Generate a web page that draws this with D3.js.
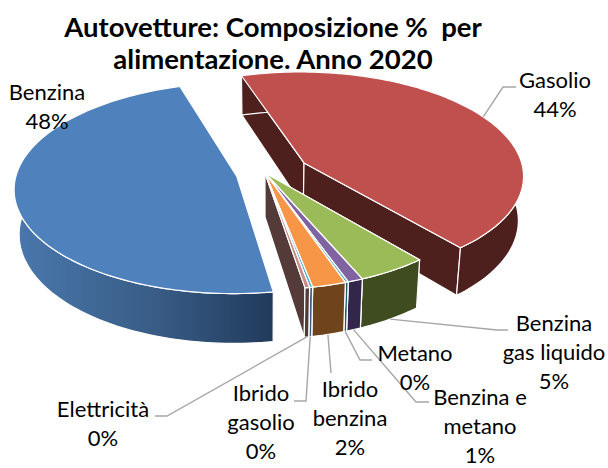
<!DOCTYPE html>
<html>
<head>
<meta charset="utf-8">
<script src="https://cdn.jsdelivr.net/npm/d3@7"></script>
<style>
  html, body { margin: 0; padding: 0; background: #fff; }
  svg { display: block; }
  text { font-family: Lato, "Open Sans", sans-serif; fill: #000; white-space: pre; }
</style>
</head>
<body>
<svg width="608" height="468"></svg>
<script>
"use strict";

var categories = ["Benzina", "Gasolio", "Benzina gas liquido", "Benzina e metano", "Metano", "Ibrido benzina", "Ibrido gasolio", "Elettricità"];
var shares = [47.7, 43.7, 4.6, 1.0, 0.2, 2.2, 0.2, 0.3];
var titleLines = ["Autovetture: Composizione %  per", "alimentazione. Anno 2020"];

var topColors = ["#4f81bd", "#c0504d", "#9bbb59", "#8064a2", "#4bacc6", "#f79646", "#4bacc6", "#c98a88"];
var wallColors = ["url(#benzina-wall)", "#4d1f1d", "#3f4c20", "#32274a", "#1d5a6b", "#6f431c", "#3c5f80", "#553a3a"];
var explode = [29, 45, 0, 0, 0, 0, 0, 0];

// label lines and where the leader goes after leaving the slice
var labelLayout = [
  { x: 47, y: 100, lines: ["Benzina"], leader: [] },
  { x: 555, y: 88, lines: ["Gasolio"], leader: [[503, 87], [516, 87]] },
  { x: 554, y: 331, lines: ["Benzina", "gas liquido"], leader: [[497, 330], [508, 330]] },
  { x: 480, y: 405, lines: ["Benzina e", "metano"], leader: [[416, 402], [429, 402]] },
  { x: 415, y: 361, lines: ["Metano"], leader: [[360, 360], [372, 360]] },
  { x: 350, y: 397, lines: ["Ibrido", "benzina"], leader: [[331, 373]] },
  { x: 261, y: 401, lines: ["Ibrido", "gasolio"], leader: [[306, 401], [294, 401]] },
  { x: 103, y: 417, lines: ["Elettricità"], leader: [[167, 416], [155, 416]] }
];

var drawOrder = [1, 0, 2, 3, 4, 5, 6, 7];

var radius = 220,
  tilt = 0.47,
  persp = 0.113,
  depth = 44,
  originX = 265,
  originY = 173;

var svg = d3.select("svg");

var grad = svg.append("defs").append("linearGradient").attr("id", "benzina-wall");
grad.append("stop").attr("offset", "0%").attr("stop-color", "#4a78ad");
grad.append("stop").attr("offset", "55%").attr("stop-color", "#385c85");
grad.append("stop").attr("offset", "100%").attr("stop-color", "#213a5c");

var pie = d3.pie()
  .sort(null)
  .startAngle(170.7 * Math.PI / 180)
  .endAngle((170.7 + 360) * Math.PI / 180);

var slices = pie(shares);
var pathLine = d3.line();

function project(wx, wy, drop) {
  var f = 1 / (1 - persp * wy / radius);
  var shrink = 1 - 0.02 * drop / depth;
  return [originX + wx * f * shrink, originY + (wy * tilt + drop) * f];
}

function apex(s, i, drop) {
  var mid = (s.startAngle + s.endAngle) / 2;
  return project(explode[i] * Math.sin(mid), -explode[i] * Math.cos(mid), drop);
}

function rim(s, i, angle, drop) {
  var mid = (s.startAngle + s.endAngle) / 2;
  var wx = explode[i] * Math.sin(mid) + radius * Math.sin(angle);
  var wy = -explode[i] * Math.cos(mid) - radius * Math.cos(angle);
  return project(wx, wy, drop);
}

function rimPoints(s, i, drop) {
  var steps = Math.max(2, Math.ceil((s.endAngle - s.startAngle) * 40));
  var angle = d3.scaleLinear().domain([0, steps]).range([s.startAngle, s.endAngle]);
  return d3.range(steps + 1).map(function (k) { return rim(s, i, angle(k), drop); });
}

drawOrder.forEach(function (i) {
  var s = slices[i];
  var g = svg.append("g").attr("class", "slice");
  var top = rimPoints(s, i, 0);
  var bottom = rimPoints(s, i, depth);
  var a0 = apex(s, i, 0);
  var a1 = apex(s, i, depth);

  // radial walls first, the top hides them where they face away
  [[a0, top[0], bottom[0], a1], [a0, top[top.length - 1], bottom[bottom.length - 1], a1]].forEach(function (quad) {
    g.append("path")
      .attr("d", pathLine(quad) + "Z")
      .attr("fill", i === 0 ? "#2c4d75" : wallColors[i])
      .attr("stroke", "#fff")
      .attr("stroke-width", 1.2);
  });

  g.append("path")
    .attr("d", pathLine(top.concat(bottom.slice().reverse())) + "Z")
    .attr("fill", wallColors[i])
    .attr("stroke", "#fff")
    .attr("stroke-width", 1.2);

  g.append("path")
    .attr("d", pathLine([a0].concat(top)) + "Z")
    .attr("fill", topColors[i])
    .attr("stroke", "#fff")
    .attr("stroke-width", 1.2)
    .attr("stroke-linejoin", "round");
});

// leaders start on the rim of their slice
slices.forEach(function (s, i) {
  var layout = labelLayout[i];
  if (!layout.leader.length) {
    return;
  }
  var mid = (s.startAngle + s.endAngle) / 2;
  var start = rim(s, i, mid, i === 1 ? 0 : depth);
  svg.append("path")
    .attr("d", pathLine([start].concat(layout.leader)))
    .attr("fill", "none")
    .attr("stroke", "#a6a6a6")
    .attr("stroke-width", 1.4);
});

var percent = d3.format(".0%");

slices.forEach(function (s, i) {
  var layout = labelLayout[i];
  var text = svg.append("text")
    .attr("x", layout.x)
    .attr("y", layout.y)
    .attr("text-anchor", "middle")
    .style("font-size", "22px");
  layout.lines.concat(percent(shares[i] / 100)).forEach(function (line, k) {
    text.append("tspan")
      .attr("x", layout.x)
      .attr("dy", k === 0 ? 0 : 29)
      .text(line);
  });
});

svg.selectAll("text.title")
  .data(titleLines)
  .enter().append("text")
  .attr("class", "title")
  .attr("x", 273)
  .attr("y", function (d, i) { return 37 + i * 31.5; })
  .attr("text-anchor", "middle")
  .style("font-size", "27.5px")
  .style("font-weight", "bold")
  .text(function (d) { return d; });
</script>
</body>
</html>
